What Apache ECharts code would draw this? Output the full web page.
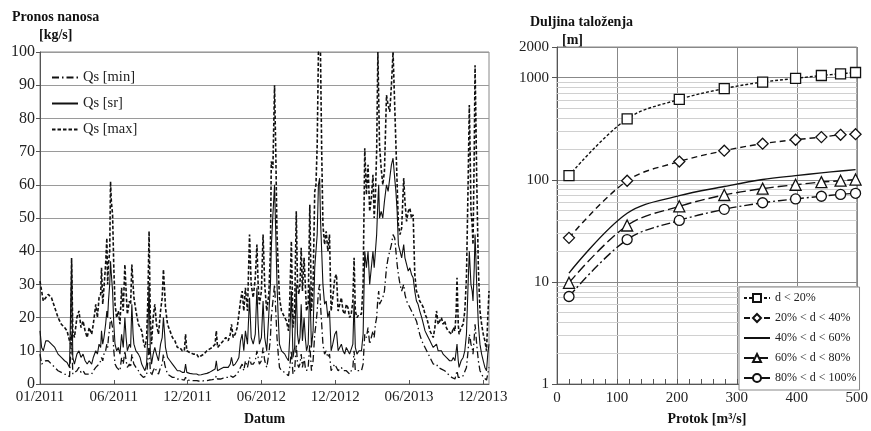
<!DOCTYPE html>
<html><head><meta charset="utf-8">
<script src="https://cdn.jsdelivr.net/npm/echarts@6.0.0/dist/echarts.min.js"></script>
<style>html,body{margin:0;padding:0;background:#fff}#c{width:871px;height:431px}</style>
</head><body><div id="c"></div>
<script>
// ---- Left chart: Pronos nanosa (day index from 01/01/2011) ----
const days = [
0,4,8,14,20,28,36,44,52,60,
66,72,75,77,80,84,90,95,100,105,
110,115,120,126,130,136,140,144,148,150,
153,156,160,163,165,167,170,172,174,177,
180,183,187,191,195,199,203,207,210,213,
218,221,224,227,229,234,240,244,248,252,
256,260,263,266,269,272,276,280,284,289,
294,298,301,304,306,311,317,323,329,335,
341,347,352,355,358,365,374,382,387,393,
400,407,413,420,427,430,433,440,447,453,
459,464,467,471,476,481,485,489,493,497,
501,506,511,515,520,525,529,532,535,540,
544,548,553,558,562,564,568,572,575,578,
581,584,589,593,597,601,606,609,613,617,
621,625,628,631,634,637,640,644,647,650,
654,658,662,666,670,673,676,679,682,684,
687,690,694,698,702,706,710,714,719,723,
727,731,735,739,743,747,751,755,759,763,
766,769,773,778,784,788,792,796,800,804,
808,812,815,818,821,824,826,828,832,836,
840,845,849,853,857,861,865,868,871,874,
878,882,887,890,894,898,902,906,910,914,
918,922,926,931,935,939,943,947,951,955,
959,963,967,971,975,979,983,987,991,995,
999,1004,1008,1012,1015,1017,1020,1022,1027,1032,
1036,1040,1044,1047,1049,1051,1054,1056,1059,1061,
1063,1065,1069,1073,1077,1081,1085,1089,1092,1095];
const qsMax = [
31,28,25,26,27,26,23,20,18,17,
16,13,12,38,16,14,20,22,17,19,
16,14,17,15,18,24,20,26,27,35,
24,29,36,44,30,36,40,61,55,51,
35,24,20,22,18,29,22,36,28,21,
25,24,36,30,26,22,18,17,16,13,
11,14,25,46,20,12,20,24,18,15,
22,26,34.5,28,23,18,16,14,13,11,
11,10,10,15,10,9.5,9,9,8,8.5,
9,10,10.5,11,12,16,11,12,13,14,
13,15,18,14,15,17,17,25,28,22,
29,22,45,30,26,32,42,30,24,28,
45,30,22,27,40,67,65,90,70,45,
35,26,22,22,20,19,16,25,43,17,
22,52,30,27,30,41,28,38,30,22,
24,54,22,30,58,60,72,100,100,100,
70,48,42,46,40,45,22,26,32,33,
22,24,26,22,21,24,23,20,21,25,
38,22,20,21,21,30,71,57,66,52,
56,63,50,57,70,100,100,72,65,60,
64,87,84,82,90,100,100,72,60,48,
45,47,62,55,49,52,53,50,51,33,
28,27,25,24,23,21,20,18,16,15,
14,17,22,18,19,20,18,19,17,16,
16,15,17,16,22,32,18,15,17,18,
22,32,60,84,70,52,48,42,70,96,
80,62,35,22,18,15,13,10,20,28];
const qsSr = [
16,11,10,13,13,12,11,9,8,7,
6.5,5,4.5,37,8,6,9,10,8,9,
7,6,7,6,8,10,9,12,11,16,
12,14,18,22,20,25,30,37,33,28,
18,12,10,11,9,15,11,20,14,10,
12,11,24,15,12,10,9,8,6,5,
4,6,15,30,10,6,9,11,9,7,
12,14,20,15,11,8,7,6,5,4,
4,3.5,3.5,6,3.5,3.2,3,3,2.7,2.8,
3,3.2,3.5,4,4.5,7,4,4.5,5,5,
5,6,8,5.5,6,7,8,13,15,10,
16,12,26,14,12,15,29,18,12,14,
25,14,10,21,30,41,51,60,45,30,
20,12,10,10,9,8,7,14,28,8,
11,30,15,12,14,24,13,20,14,10,
12,30,11,16,35,40,45,60,62,50,
40,30,24,25,20,22,10,12,15,16,
10,11,12,10,9,11,10,9,9,12,
25,11,9,10,10,15,40,35,40,30,
35,40,35,40,45,55,60,50,52,50,
55,60,58,62,66,68,62,58,52,42,
40,38,42,38,36,34,35,33,32,28,
25,24,22,20,18,16,15,14,13,12,
11,11,12,10,10,10,9,9,8,8,
7,7,8,7,10,12,7,5,7,8,
10,15,30,40,35,30,28,25,35,45,
38,30,18,12,9,7,5,4,9,12];
const qsMin = [
9,6,6,7,7,6,5,4,3.5,3,
2.8,2.2,2,15,3,2.5,4,5,3.5,4,
3,3,3,3,4,5,5,6,7,8,
7,9,10,12,11,14,17,20,19,17,
10,6,5,5,4,8,6,10,7,5,
6,5,9,7,6,5,4,3,2.5,2,
1.5,2.5,7,12,4,2.5,4,5,4,3,
5,6,9,6,5,3,2.5,2,2,1.5,
1.5,1.3,1.2,2,1.2,1.1,1,1,0.9,0.8,
1,1,1.2,1.3,1.5,2.5,1.5,1.5,1.8,2,
2,2.5,3,2,2.5,3,3,5,6,4,
7,5,8,6,6,7,10,8,6,7,
11,7,5,9,14,20,25,30,22,14,
9,5,4,4,3.5,3,2.5,5,10,3,
4,12,6,5,6,9,5,8,5,4,
5,12,4,7,15,18,22,28,30,24,
18,12,9,10,8,9,4,5,6,6,
4,4,5,4,3.5,4,4,3,3.5,5,
10,4,3.5,4,4,6,15,14,17,12,
14,16,14,18,20,26,28,24,25,26,
28,35,38,40,42,45,44,40,36,33,
30,28,30,27,25,24,24,22,21,20,
19,17,15,13,12,11,10,9,8,7,
6,6,6,5,5,4.5,4,4,3.5,3,
2.5,2,2,1.5,3,4,2,1.5,2,2.5,
3,5,10,15,14,12,11,9,14,18,
15,12,7,4,3,2,1.5,1.2,3,5];
const dateTicks = ['01/2011','06/2011','12/2011','06/2012','12/2012','06/2013','12/2013'];

// ---- Right chart: Duljina taloženja vs Protok ----
const flow = [20,117,204,279,343,398,441,473,498];
const d20  = [110,396,614,783,907,985,1052,1093,1125];
const d40  = [27,98,151,193,226,247,262,276,280];
const d60  = [12.2,47,70,86,100.7,110,117,122,126];
const d80  = [9.8,35.7,55,71,82,89.5,95,98,100.6];
const d100 = [7.2,26,40,51.4,59.6,65,69,72,73.8];
const logMinor = [2,3,4,5,6,7,8,9,20,30,40,50,60,70,80,90,200,300,400,500,600,700,800,900];

const FONT = "'Liberation Serif','Times New Roman',serif";
const INK = '#111';
const pair = (xs, ys) => xs.map((x, i) => [x, ys[i]]);
const noSym = name => ({name, itemStyle: {opacity: 0}});

const chart = echarts.init(document.getElementById('c'), null, {renderer: 'canvas'});

const leftLine = (name, ys, type, width) => ({
  name, type: 'line', xAxisIndex: 0, yAxisIndex: 0,
  data: pair(days, ys), symbol: 'none', showSymbol: false, z: 3,
  lineStyle: {color: INK, width, type}, itemStyle: {color: INK},
  animation: false, clip: true
});
const rightLine = (name, ys, type, symbol, size, smooth) => ({
  name, type: 'line', xAxisIndex: 1, yAxisIndex: 1,
  data: pair(flow, ys), smooth: smooth, z: 3,
  symbol, symbolSize: size, showSymbol: symbol !== 'none',
  lineStyle: {color: INK, width: 1.4, type},
  itemStyle: {color: '#fff', borderColor: INK, borderWidth: 1.3},
  animation: false
});

chart.setOption({
  animation: false,
  backgroundColor: '#fff',
  textStyle: {fontFamily: FONT},
  graphic: [
    {type: 'text', left: 12, top: 10, style: {text: 'Pronos nanosa', font: "bold 14px " + FONT, fill: '#111'}},
    {type: 'text', left: 39, top: 28, style: {text: '[kg/s]', font: "bold 14px " + FONT, fill: '#111'}},
    {type: 'text', left: 530, top: 15, style: {text: 'Duljina taloženja', font: "bold 14px " + FONT, fill: '#111'}},
    {type: 'text', left: 562, top: 33, style: {text: '[m]', font: "bold 14px " + FONT, fill: '#111'}}
  ],
  grid: [
    {left: 40, top: 52, width: 449, height: 335, show: true, borderColor: '#888', borderWidth: 1},
    {left: 557, top: 47, width: 303, height: 342, show: true, borderColor: '#888', borderWidth: 1}
  ],
  legend: [
    {
      data: [noSym('Qs [min]'), noSym('Qs [sr]'), noSym('Qs [max]')],
      left: 51, top: 70, orient: 'vertical', padding: 0,
      itemWidth: 26, itemHeight: 14, itemGap: 11,
      textStyle: {fontFamily: FONT, fontSize: 14.5, color: '#222'}
    },
    {
      data: ['d < 20%', '20% < d < 40%', noSym('40% < d < 60%'), '60% < d < 80%', '80% < d < 100%'],
      left: 739, top: 287, orient: 'vertical', padding: [5, 3, 6, 4],
      itemWidth: 26, itemHeight: 10, itemGap: 8,
      backgroundColor: '#fff', borderColor: '#888', borderWidth: 1, z: 6,
      textStyle: {fontFamily: FONT, fontSize: 12, color: '#222'}
    }
  ],
  xAxis: [
    {
      type: 'value', gridIndex: 0, min: 0, max: 1095, interval: 180,
      axisLine: {show: true, lineStyle: {color: '#555'}},
      axisTick: {show: true, inside: true, length: 4, lineStyle: {color: '#555'}},
      splitLine: {show: false},
      axisLabel: {
        fontFamily: FONT, fontSize: 15, color: '#222', margin: 6, showMaxLabel: false,
        formatter: v => (v % 180 === 0 ? dateTicks[v / 180] : '')
      },
      name: 'Datum', nameLocation: 'middle', nameGap: 28,
      nameTextStyle: {fontFamily: FONT, fontSize: 14, fontWeight: 'bold', color: '#111'}
    },
    {
      type: 'value', gridIndex: 1, min: 0, max: 500, interval: 100,
      axisLine: {show: true, lineStyle: {color: '#555'}},
      axisTick: {show: true, inside: true, length: 5, lineStyle: {color: '#555'}},
      minorTick: {show: true, splitNumber: 5, length: 5, lineStyle: {color: '#555'}},
      splitLine: {show: true, lineStyle: {color: '#888', width: 1}},
      axisLabel: {fontFamily: FONT, fontSize: 15, color: '#222', margin: 7},
      name: 'Protok [m³/s]', nameLocation: 'middle', nameGap: 28,
      nameTextStyle: {fontFamily: FONT, fontSize: 14, fontWeight: 'bold', color: '#111'}
    }
  ],
  yAxis: [
    {
      type: 'value', gridIndex: 0, min: 0, max: 100, interval: 10,
      axisLine: {show: true, lineStyle: {color: '#555'}},
      axisTick: {show: true, length: 4, lineStyle: {color: '#555'}},
      splitLine: {show: true, lineStyle: {color: '#9a9a9a', width: 1}},
      axisLabel: {fontFamily: FONT, fontSize: 16, color: '#222', margin: 5}
    },
    {
      type: 'log', logBase: 10, gridIndex: 1, min: 1, max: 2000,
      axisLine: {show: true, lineStyle: {color: '#555'}},
      axisTick: {show: true, length: 5, lineStyle: {color: '#555'}},
      splitLine: {show: true, lineStyle: {color: '#888', width: 1}},
      axisLabel: {fontFamily: FONT, fontSize: 15, color: '#222', margin: 8,
        formatter: v => String(Math.round(v))}
    }
  ],
  series: [
    leftLine('Qs [min]', qsMin, [7, 3, 1.5, 3], 1.3),
    leftLine('Qs [sr]', qsSr, 'solid', 1.1),
    leftLine('Qs [max]', qsMax, [3.5, 2], 1.6),
    {
      name: 'minorGrid', type: 'line', xAxisIndex: 1, yAxisIndex: 1, data: [], z: 1,
      markLine: {
        silent: true, symbol: 'none', label: {show: false}, z: 1,
        lineStyle: {color: '#d0d0d0', width: 1, type: 'solid'},
        data: logMinor.map(v => ({yAxis: v}))
      }
    },
    rightLine('d < 20%', d20, [3, 2], 'rect', 10, 0.35),
    rightLine('20% < d < 40%', d40, [6, 4], 'diamond', 11, 0.35),
    rightLine('40% < d < 60%', d60, 'solid', 'none', 0, 0.35),
    rightLine('60% < d < 80%', d80, [10, 4], 'triangle', 11, 0.35),
    rightLine('80% < d < 100%', d100, [9, 3, 2, 3], 'circle', 10, 0.35)
  ]
});
</script>
</body></html>
